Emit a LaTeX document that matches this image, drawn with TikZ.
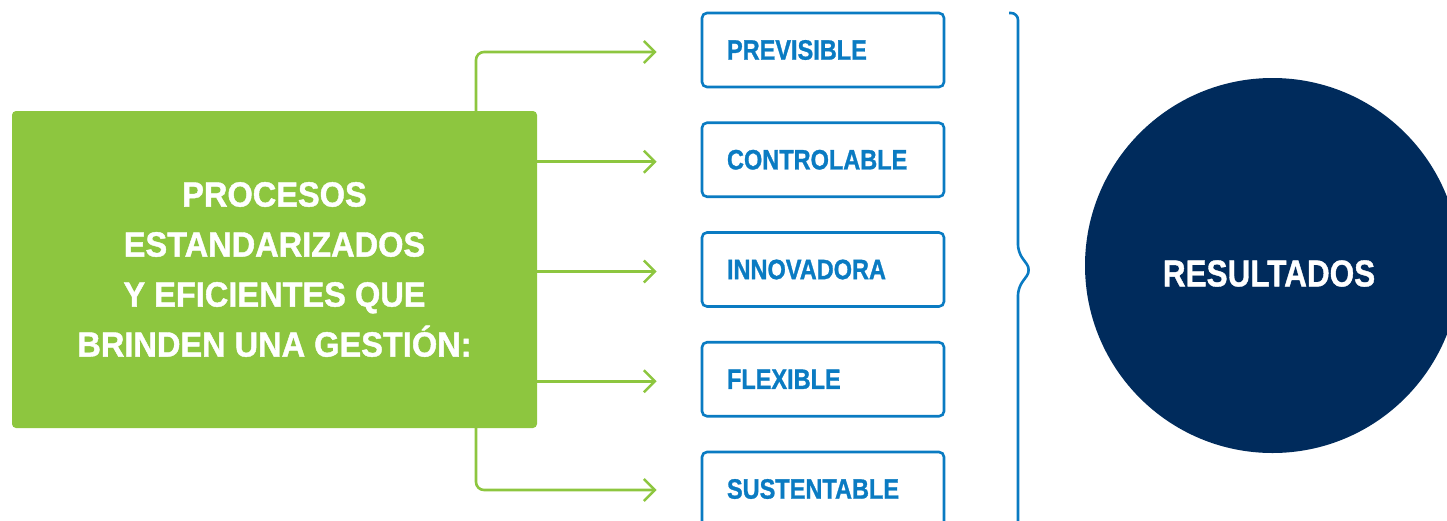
\documentclass[tikz,border=0pt]{standalone}
\usepackage{fontspec}
\setmainfont{Liberation Sans}
\newfontfamily\optfont{Liberation Sans}[FakeStretch=0.84,FakeBold=1]
\newfontfamily\procfont{Liberation Sans}[FakeStretch=0.93,FakeBold=1.2]
\usepackage{tikz}
\usetikzlibrary{arrows.meta,positioning}
\definecolor{greenx}{HTML}{8DC63F}
\definecolor{bluex}{HTML}{0A7BC2}
\definecolor{navyx}{HTML}{002B5C}
\tikzset{
  ar/.style={-{Straight Barb[length=11pt,width=22pt]},line width=2.6pt,greenx,rounded corners=8pt,shorten >=44pt},
  opt/.style={draw=bluex,line width=2.6pt,rounded corners=5pt,text=bluex,inner xsep=25pt,text width=192pt,
    minimum height=74pt,align=left,font=\optfont\bfseries\fontsize{28}{30}\selectfont},
  proc/.style={fill=greenx,rounded corners=4pt,minimum width=525pt,minimum height=317pt,text=white,align=center,
    font=\procfont\bfseries\fontsize{35}{50}\selectfont},
  res/.style={circle,fill=navyx,minimum size=375pt,inner sep=0pt},
  brc/.style={draw=bluex,line width=2.6pt,rounded corners=7pt}
}
\begin{document}
\begin{tikzpicture}[x=1pt,y=-1pt]
\useasboundingbox (0,0) rectangle (1447,520);
\clip (0,0) rectangle (1447,520);
% left block
\node[proc] (p) at (274.5,269.5) {PROCESOS\\ESTANDARIZADOS\\Y EFICIENTES QUE\\BRINDEN UNA GESTIÓN:};
% the five qualities
\foreach \t [count=\i] in {PREVISIBLE,CONTROLABLE,INNOVADORA,FLEXIBLE,SUSTENTABLE}{
  \node[opt] (b\i) at (823,{50+109.75*(\i-1)}) {\t};
}
\draw[ar] ([xshift=201.5pt,yshift=-2pt]p.north) |- ([yshift=-2pt]b1.west);
\foreach \i in {2,3,4}{\draw[ar] ([yshift=-2pt]p.east |- b\i.west) -- ([yshift=-2pt]b\i.west);}
\draw[ar] ([xshift=201.5pt]p.south) |- ([yshift=-1pt]b5.west);
% brace
\draw[brc] (1009,13) -- (1018,13) -- (1018,252) -- (1031,270) -- (1018,288) -- (1018,530);
% result
\node[res] (r) at (1272.5,265.5) {};
\node[text=white,font=\optfont\bfseries\fontsize{37.5}{40}\selectfont] (rt) at ([shift={(-3.5,8)}]r.center) {RESULTADOS};
\end{tikzpicture}
\end{document}
